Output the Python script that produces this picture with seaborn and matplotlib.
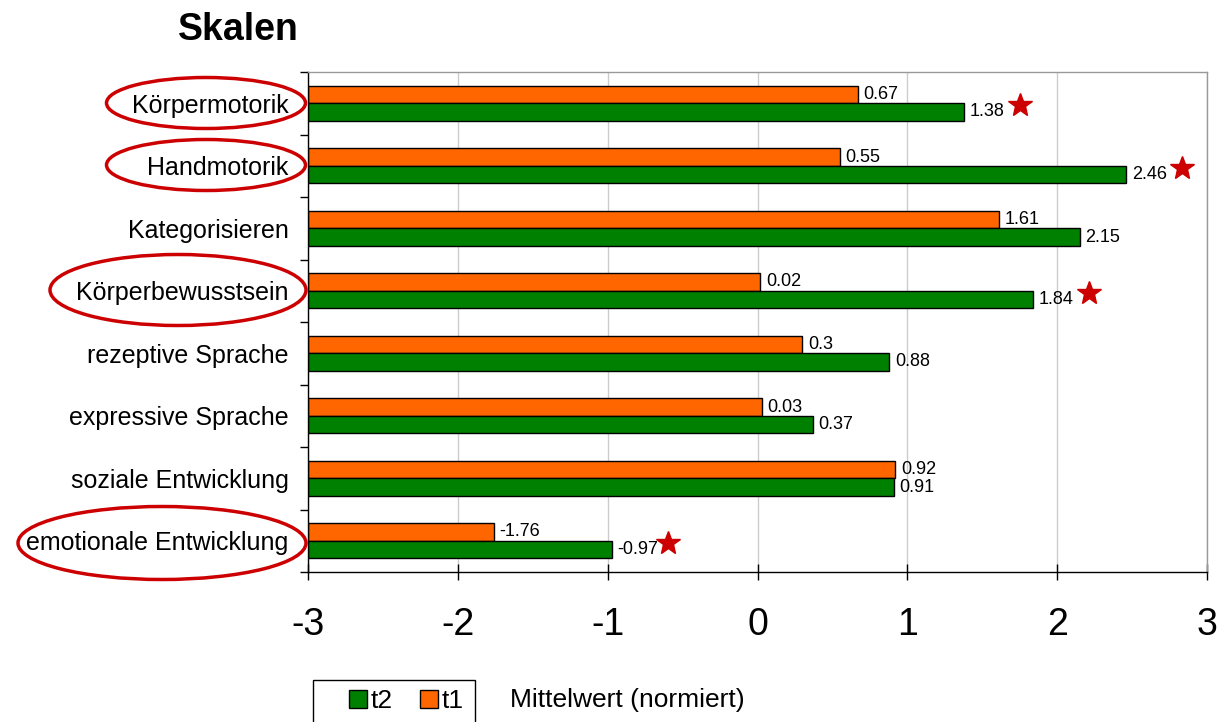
import matplotlib
matplotlib.use('Agg')
import matplotlib.pyplot as plt
from matplotlib.patches import Ellipse, Rectangle
from matplotlib.lines import Line2D
import seaborn as sns
import pandas as pd

# Daten
skalen = ['Körpermotorik', 'Handmotorik', 'Kategorisieren', 'Körperbewusstsein',
          'rezeptive Sprache', 'expressive Sprache', 'soziale Entwicklung',
          'emotionale Entwicklung']
t1 = [0.67, 0.55, 1.61, 0.02, 0.3, 0.03, 0.92, -1.76]
t2 = [1.38, 2.46, 2.15, 1.84, 0.88, 0.37, 0.91, -0.97]
signifikant = [True, True, False, True, False, False, False, True]
x_ticks = [-3, -2, -1, 0, 1, 2, 3]

farben = {'t1': '#FF6600', 't2': '#008000'}
stern_farbe = '#CC0000'

# Ellipsen um markierte Skalen (Pixel: cx, cy, w, h)
ellipsen = {
    'Körpermotorik': (206, 103, 199, 51),
    'Handmotorik': (206, 165, 199, 51),
    'Körperbewusstsein': (178, 290, 256, 71),
    'emotionale Entwicklung': (162, 543, 288, 73),
}

df = pd.DataFrame({
    'Skala': skalen * 2,
    'Zeitpunkt': ['t1'] * len(t1) + ['t2'] * len(t2),
    'Wert': t1 + t2,
})

sns.set_style('white')
plt.rcParams['font.family'] = ['Liberation Sans', 'DejaVu Sans']
plt.rcParams['text.color'] = 'black'
plt.rcParams['xtick.labelcolor'] = 'black'
plt.rcParams['ytick.labelcolor'] = 'black'

W, H = 1221, 722
fig = plt.figure(figsize=(W / 100, H / 100), dpi=100)
ax = fig.add_axes([308 / W, 1 - 572 / H, 899 / W, 500 / H])

sns.barplot(data=df, y='Skala', x='Wert', hue='Zeitpunkt', order=skalen,
            hue_order=['t1', 't2'], palette=farben, saturation=1, orient='h',
            width=0.56, edgecolor='black', linewidth=1, errorbar=None,
            legend=False, gap=0, ax=ax)

x_min, x_max = x_ticks[0], x_ticks[-1]

# Balken beginnen am linken Achsenrand (-3)
for cont, werte in zip(ax.containers, [t1, t2]):
    for rect, w in zip(cont, werte):
        rect.set_x(x_min)
        rect.set_width(w - x_min)
        ax.annotate(f'{w:g}', (w, rect.get_y() + rect.get_height() / 2),
                    xytext=(4, 0), textcoords='offset points',
                    ha='left', va='center', fontsize=13, color='black')

# Sterne für signifikante Veränderungen
for i, (w, sig) in enumerate(zip(t2, signifikant)):
    if sig:
        ax.plot(w + 0.37, i + 0.03, marker='*', color=stern_farbe,
                markersize=18, linestyle='none', clip_on=False)

ax.set_xlim(x_min, x_max)
ax.set_ylim(len(skalen) - 0.5, -0.5)
ax.set_xticks(x_ticks)
ax.set_xticklabels([str(t) for t in x_ticks], fontsize=27)
ax.set_yticks(range(len(skalen)))
ax.set_yticklabels(skalen, fontsize=18)
ax.set_yticks([i - 0.5 for i in range(len(skalen) + 1)], minor=True)
ax.set_xlabel('')
ax.set_ylabel('')

ax.tick_params(axis='x', which='major', bottom=True, length=11, width=1,
               direction='inout', color='black', pad=20)
ax.tick_params(axis='y', which='major', left=True, length=0, pad=14)
ax.tick_params(axis='y', which='minor', left=True, length=6, width=1,
               direction='out', color='black')

ax.grid(axis='x', color='#cccccc', linewidth=1)
ax.set_axisbelow(True)
for s in ['top', 'right']:
    ax.spines[s].set_color('#999999')
    ax.spines[s].set_linewidth(1)
for s in ['left', 'bottom']:
    ax.spines[s].set_color('black')
    ax.spines[s].set_linewidth(1)

for name, (cx, cy, ew, eh) in ellipsen.items():
    fig.patches.append(Ellipse((cx / W, 1 - cy / H), ew / W, eh / H,
                               transform=fig.transFigure, fill=False,
                               edgecolor=stern_farbe, linewidth=2.5))

fig.text(178 / W, 1 - 30 / H, 'Skalen', fontsize=27, fontweight='bold',
         ha='left', va='center')

# Legende: Rahmen reicht über den unteren Bildrand hinaus
fig.patches.append(Rectangle((313 / W, 1 - 740 / H), 162 / W, 60 / H,
                             transform=fig.transFigure, fill=False,
                             edgecolor='black', linewidth=1))
handles = [Line2D([], [], marker='s', linestyle='none', markersize=12.5,
                  markerfacecolor=farben[k], markeredgecolor='black')
           for k in ['t2', 't1']]
fig.legend(handles, ['t2', 't1'], loc='center left',
           bbox_to_anchor=(346 / W, 1 - 701 / H), ncol=2, fontsize=19,
           frameon=False, handletextpad=0.05, columnspacing=0.9,
           handlelength=0.9, borderpad=0, borderaxespad=0)

fig.text(510 / W, 1 - 700 / H, 'Mittelwert (normiert)', fontsize=19,
         ha='left', va='center')

fig.savefig('out.png', dpi=100)
